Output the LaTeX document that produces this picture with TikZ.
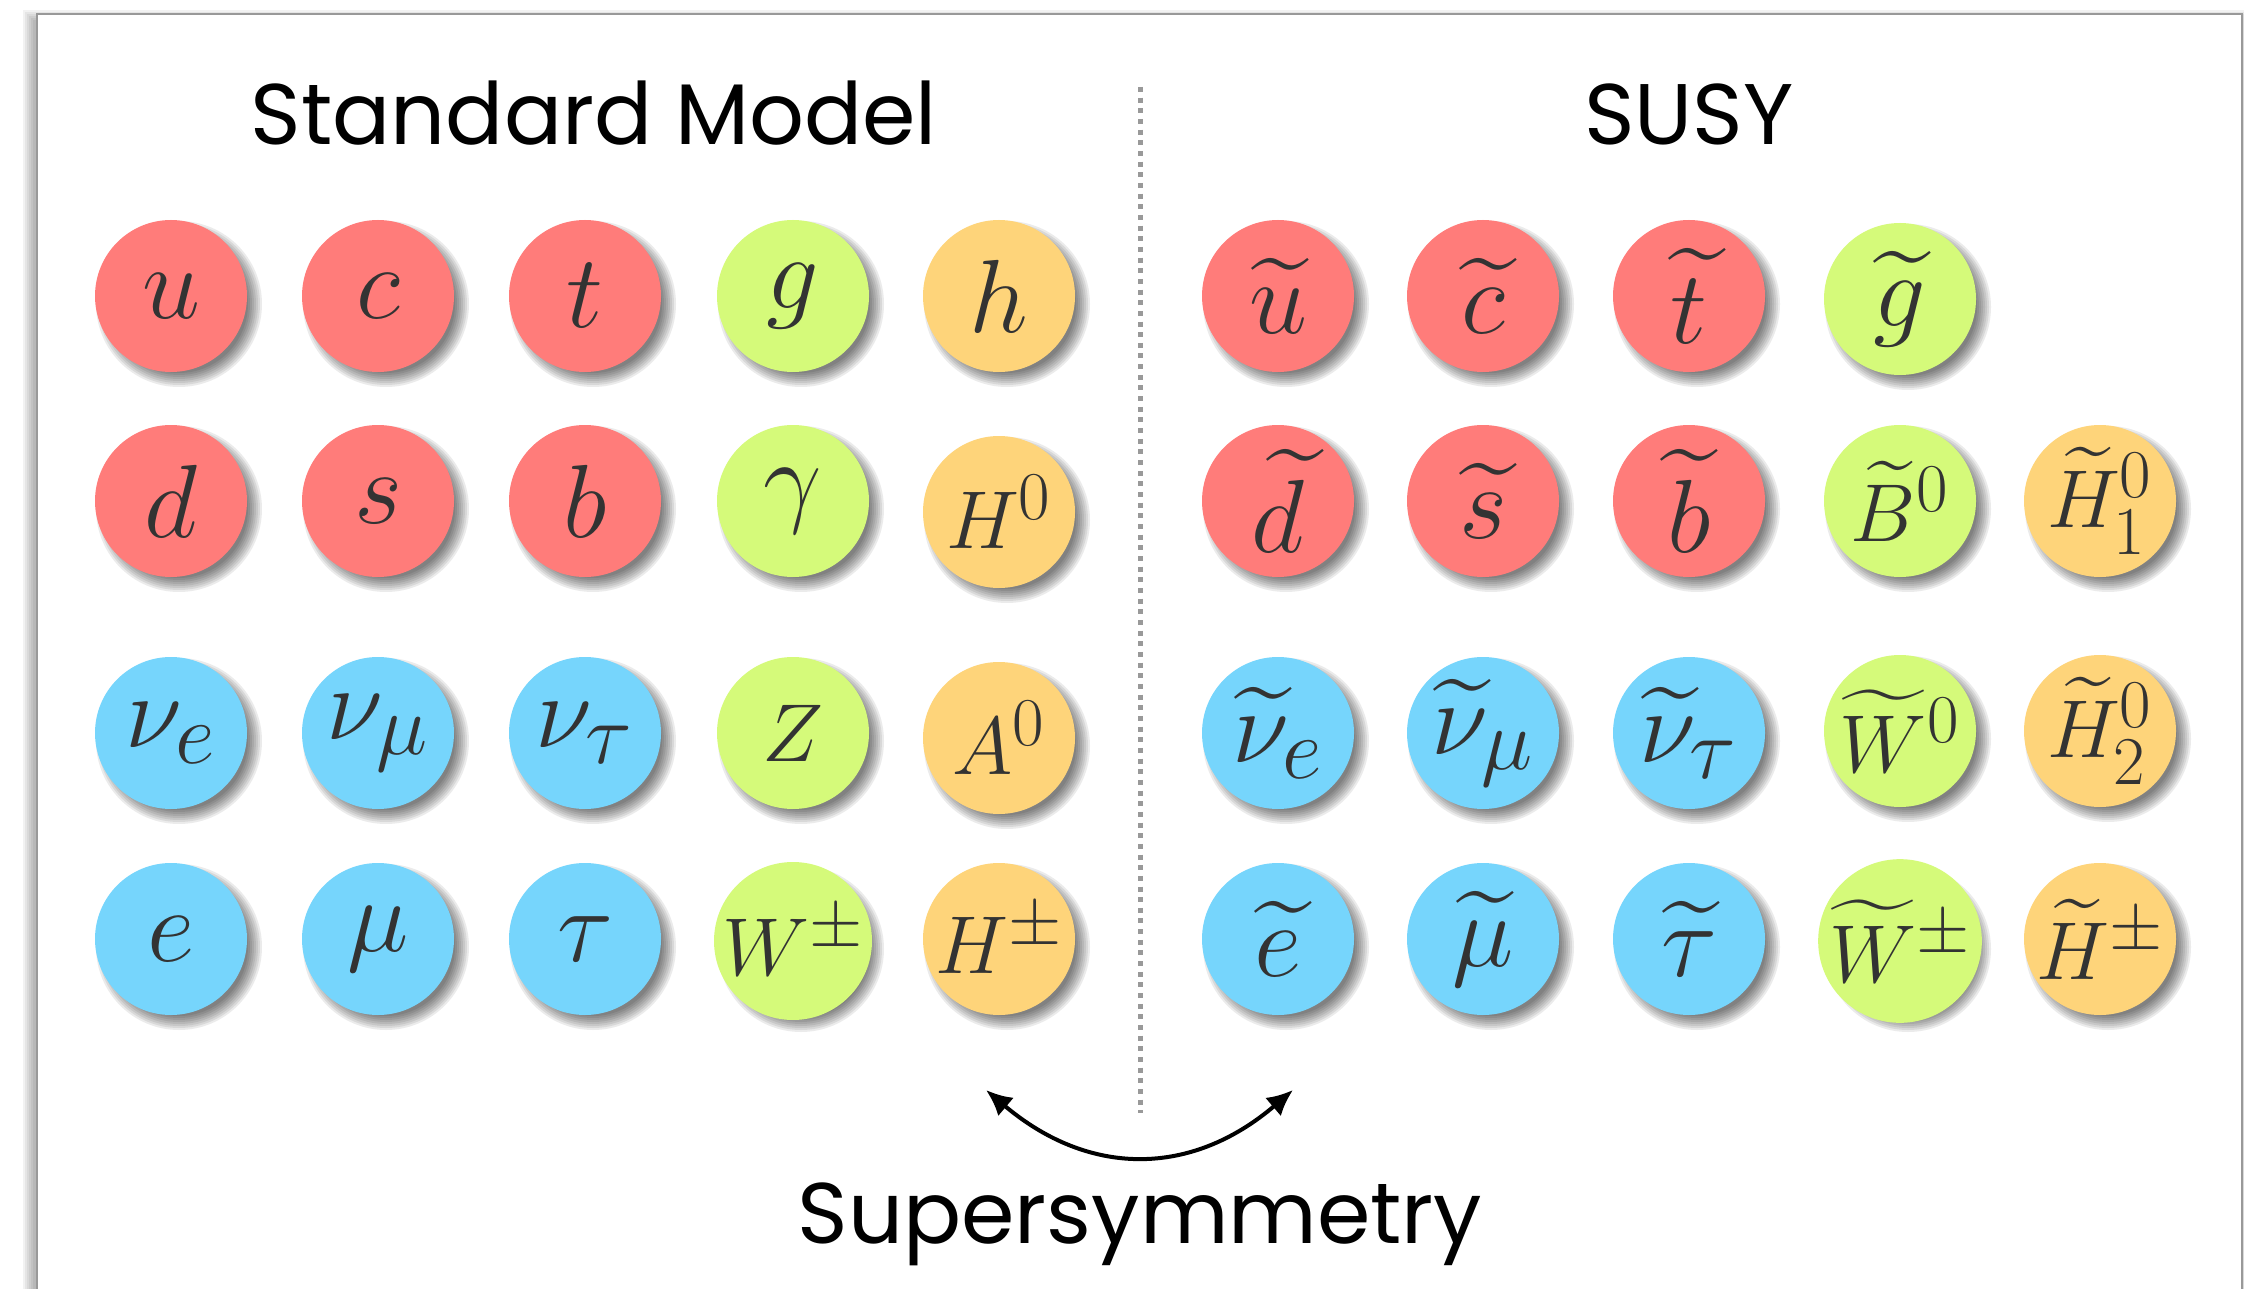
\documentclass[tikz,border=0pt]{standalone}
\usepackage{exscale}
\usepackage[no-math]{fontspec}
\newfontfamily\poppins{Poppins}
\usetikzlibrary{arrows.meta}
\definecolor{pred}{HTML}{FF7C7A}
\definecolor{pgreen}{HTML}{D5FA7A}
\definecolor{porange}{HTML}{FED47A}
\definecolor{pblue}{HTML}{76D5FC}
\definecolor{ptext}{HTML}{333333}
\definecolor{framegray}{HTML}{999999}
\tikzset{
  particle/.style={circle, minimum size=76pt, inner sep=0pt, text=ptext, font=\Huge},
  titletext/.style={font=\poppins\fontsize{43pt}{50pt}\selectfont, anchor=base, text=black},
  softshadow/.style={fill=black, opacity=0.08},
}
\newcommand\lowscale{2.09}
\newcommand\capscale{1.65}
% name, x, y, colour, scale, content
\newcommand\ptcl[6]{%
  \foreach \rr in {41.5,40.5,39.5,38.5,37.5,36.5,35.5,34.5}
    {\fill[softshadow] (#2+8,#3+8) circle[radius=\rr pt];}
  \node[particle, fill=#4] (#1) at (#2,#3) {\scalebox{#5}{$#6$}};
}
\begin{document}
\begin{tikzpicture}[x=0.5pt,y=-0.5pt]
\useasboundingbox (0,0) rectangle (2244,1289);
\fill[white] (0,0) rectangle (2244,1289);
\clip (0,0) rectangle (2244,1289);
% frame with soft shadow on the left
\foreach \e in {0,2,4,6,8,10}
  {\fill[black, opacity=0.05] (37-4-\e,14+6-\e) rectangle (2242-4+\e,1400);}
\fill[white] (37,14) rectangle (2242,1400);
\draw[framegray, line width=1.4pt] (37,14) rectangle (2242,1400);
% divider
\draw[framegray, line width=2.5pt, dash pattern=on 2.5pt off 2.83pt] (1140,87) -- (1140,1113);
% titles
\node[titletext] (smtitle) at (594,145) {Standard Model};
\node[titletext] (susytitle) at (1689,145) {SUSY};
\node[titletext] (susylabel) at (1140,1243) {Supersymmetry};
% Standard Model
\ptcl{u}{171}{296}{pred}{\lowscale}{u}
\ptcl{c}{378}{296}{pred}{\lowscale}{c}
\ptcl{t}{585}{296}{pred}{\lowscale}{t}
\ptcl{g}{793}{296}{pgreen}{\lowscale}{g}
\ptcl{h}{999}{296}{porange}{\lowscale}{h}
\ptcl{d}{171}{501}{pred}{\lowscale}{d}
\ptcl{s}{378}{501}{pred}{\lowscale}{s}
\ptcl{b}{585}{501}{pred}{\lowscale}{b}
\ptcl{gam}{793}{501}{pgreen}{\lowscale}{\gamma}
\ptcl{H0}{999}{512}{porange}{\capscale}{H^0}
\ptcl{nue}{171}{733}{pblue}{\lowscale}{\nu_e}
\ptcl{num}{378}{733}{pblue}{\lowscale}{\nu_\mu}
\ptcl{nut}{585}{733}{pblue}{\lowscale}{\nu_\tau}
\ptcl{Z}{793}{733}{pgreen}{\capscale}{Z}
\ptcl{A0}{999}{738}{porange}{\capscale}{A^0}
\ptcl{e}{171}{939}{pblue}{\lowscale}{e}
\ptcl{mu}{378}{939}{pblue}{\lowscale}{\mu}
\ptcl{tau}{585}{939}{pblue}{\lowscale}{\tau}
\ptcl{Wpm}{793}{941}{pgreen}{\capscale}{W^\pm}
\ptcl{Hpm}{999}{939}{porange}{\capscale}{H^\pm}
% SUSY
\ptcl{su}{1278}{296}{pred}{\lowscale}{\widetilde{u}}
\ptcl{sc}{1483}{296}{pred}{\lowscale}{\widetilde{c}}
\ptcl{st}{1689}{296}{pred}{\lowscale}{\widetilde{t}}
\ptcl{sg}{1900}{299}{pgreen}{\lowscale}{\widetilde{g}}
\ptcl{sd}{1278}{501}{pred}{\lowscale}{\widetilde{d}}
\ptcl{ss}{1483}{501}{pred}{\lowscale}{\widetilde{s}}
\ptcl{sb}{1689}{501}{pred}{\lowscale}{\widetilde{b}}
\ptcl{sB0}{1900}{501}{pgreen}{\capscale}{\widetilde{B}^0}
\ptcl{sH10}{2100}{501}{porange}{\capscale}{\widetilde{H}_1^0}
\ptcl{snue}{1278}{733}{pblue}{\lowscale}{\widetilde{\nu}_e}
\ptcl{snum}{1483}{733}{pblue}{\lowscale}{\widetilde{\nu}_\mu}
\ptcl{snut}{1689}{733}{pblue}{\lowscale}{\widetilde{\nu}_\tau}
\ptcl{sW0}{1900}{731}{pgreen}{\capscale}{\widetilde{W}^0}
\ptcl{sH20}{2100}{731}{porange}{\capscale}{\widetilde{H}_2^0}
\ptcl{se}{1278}{939}{pblue}{\lowscale}{\widetilde{e}}
\ptcl{smu}{1483}{939}{pblue}{\lowscale}{\widetilde{\mu}}
\ptcl{stau}{1689}{939}{pblue}{\lowscale}{\widetilde{\tau}}
\ptcl{sWpm}{1900}{941}{pgreen}{\capscale}{\widetilde{W}^\pm}
\ptcl{sHpm}{2100}{939}{porange}{\capscale}{\widetilde{H}^\pm}
% supersymmetry arrow
\coordinate (arrL) at (986,1090);
\coordinate (arrR) at (1293,1090);
\draw[line width=2pt, {Latex[length=13pt,width=12pt]}-{Latex[length=13pt,width=12pt]}]
  (arrL) .. controls (1089,1177) and (1191,1177) .. (arrR);
\end{tikzpicture}
\end{document}
